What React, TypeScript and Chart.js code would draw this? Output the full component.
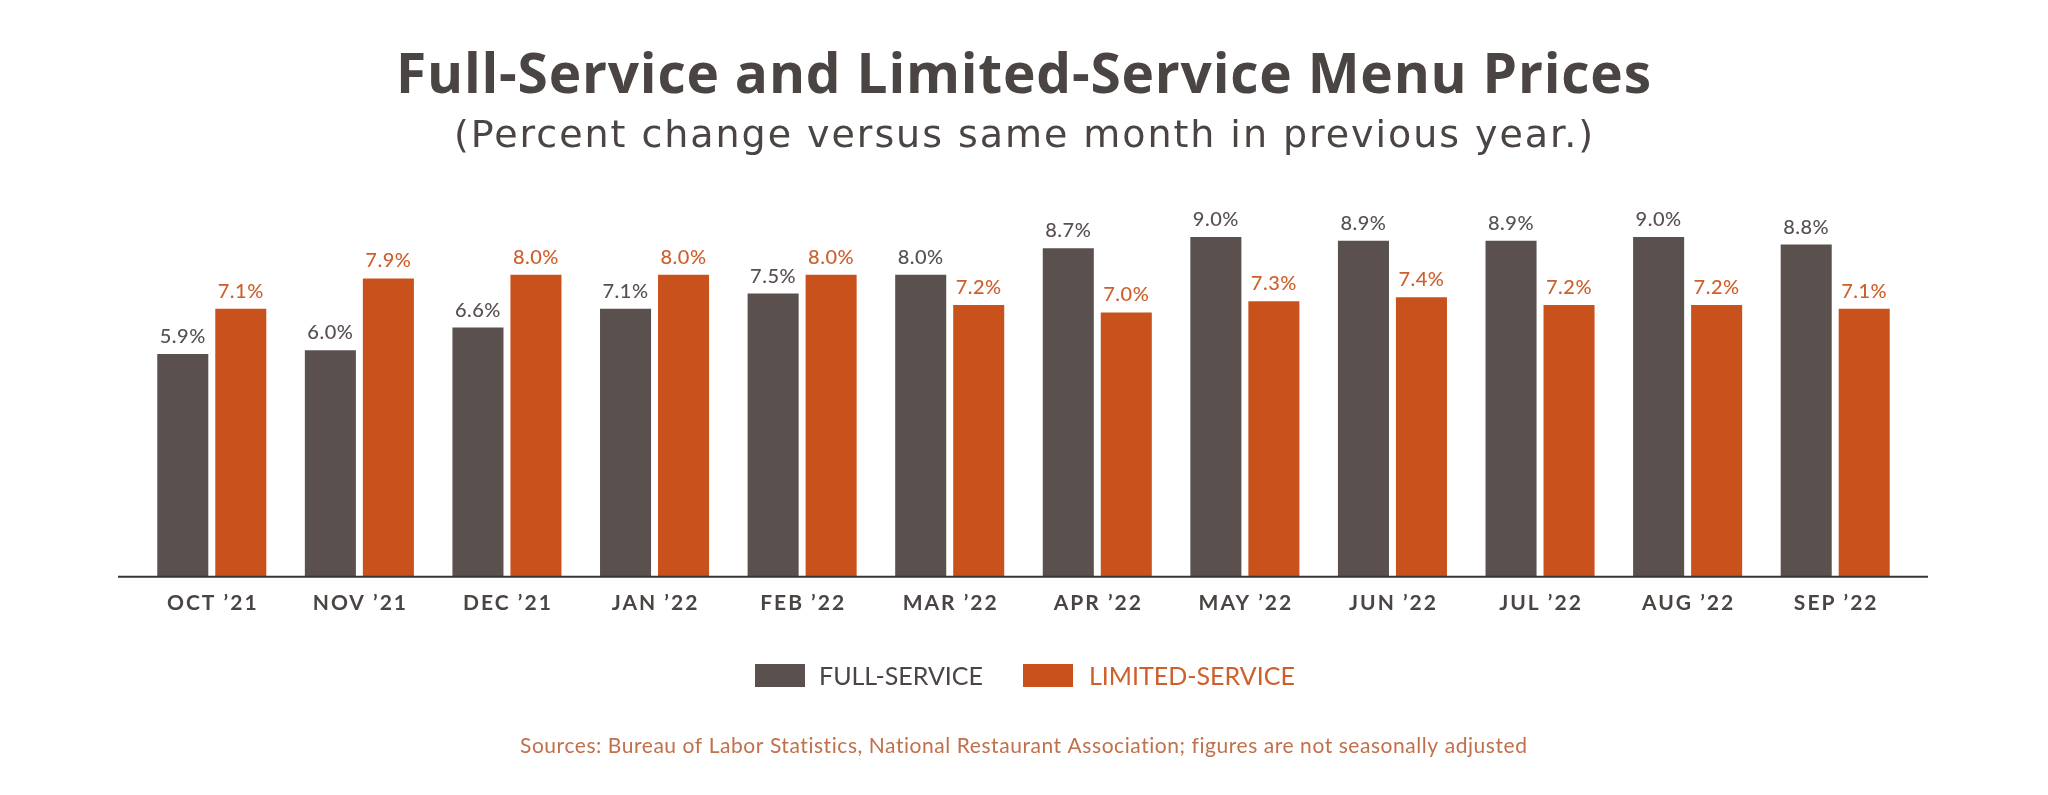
import React, { useEffect, useRef } from "react";
import { Chart, registerables } from "chart.js";

Chart.register(...registerables);

const months = ["OCT ’21", "NOV ’21", "DEC ’21", "JAN ’22", "FEB ’22", "MAR ’22", "APR ’22", "MAY ’22", "JUN ’22", "JUL ’22", "AUG ’22", "SEP ’22"];
const fullService = [5.9, 6.0, 6.6, 7.1, 7.5, 8.0, 8.7, 9.0, 8.9, 8.9, 9.0, 8.8];
const limitedService = [7.1, 7.9, 8.0, 8.0, 8.0, 7.2, 7.0, 7.3, 7.4, 7.2, 7.2, 7.1];
const seriesNames = ["FULL-SERVICE", "LIMITED-SERVICE"];
const titleText = "Full-Service and Limited-Service Menu Prices";
const subtitleText = "(Percent change versus same month in previous year.)";
const footerText = "Sources: Bureau of Labor Statistics, National Restaurant Association; figures are not seasonally adjusted";

const GREY = "#5a504d";
const ORANGE = "#c9521c";
const TEXT_GREY = "#4a4443";
const LABEL_ORANGE = "#cf5f2a";
const FONT = "Lato, 'Noto Sans', sans-serif";
const WIDE_FONT = "'Open Sans', 'Noto Sans', sans-serif";
const SUB_FONT = "'DejaVu Sans', 'Open Sans', sans-serif";

function fitText(ctx: any, text: string, cx: number, y: number, target: number) {
  ctx.letterSpacing = "0px";
  const w = ctx.measureText(text).width;
  const sp = (target - w) / Math.max(1, text.length - 1);
  ctx.letterSpacing = `${sp}px`;
  ctx.textAlign = "left";
  ctx.fillText(text, cx - target / 2, y);
  ctx.letterSpacing = "0px";
}

const drawPlugin = {
  id: "customDraw",
  beforeDraw(chart: any) {
    const ctx = chart.ctx;
    ctx.save();
    ctx.fillStyle = "#ffffff";
    ctx.fillRect(0, 0, chart.width, chart.height);
    ctx.restore();
  },
  afterDatasetsDraw(chart: any) {
    const ctx = chart.ctx;
    const area = chart.chartArea;
    const xScale = chart.scales.x;
    const yScale = chart.scales.y;
    ctx.save();

    // value labels
    chart.data.datasets.forEach((ds: any, di: number) => {
      const meta = chart.getDatasetMeta(di);
      ctx.font = `500 20px ${FONT}`;
      ctx.letterSpacing = "0.5px";
      ctx.fillStyle = di === 0 ? "#585050" : LABEL_ORANGE;
      ctx.textAlign = "center";
      ctx.textBaseline = "alphabetic";
      meta.data.forEach((el: any, i: number) => {
        ctx.fillText(ds.data[i].toFixed(1) + "%", el.x, el.y - 11);
      });
      ctx.letterSpacing = "0px";
    });

    // baseline
    const y0 = yScale.getPixelForValue(0);
    ctx.strokeStyle = "#3a3535";
    ctx.lineWidth = 2;
    ctx.beginPath();
    ctx.moveTo(area.left - 20, y0);
    ctx.lineTo(area.right + 19, y0);
    ctx.stroke();

    // x labels
    ctx.font = `bold 21px ${FONT}`;
    ctx.letterSpacing = "2px";
    ctx.fillStyle = TEXT_GREY;
    ctx.textAlign = "center";
    ctx.textBaseline = "alphabetic";
    months.forEach((m, i) => {
      ctx.fillText(m, xScale.getPixelForValue(i) + 1, 610);
    });
    ctx.letterSpacing = "0px";

    // title
    ctx.textBaseline = "alphabetic";
    ctx.font = `bold 55px ${WIDE_FONT}`;
    ctx.fillStyle = TEXT_GREY;
    fitText(ctx, titleText, 1023.5, 93, 1255);
    ctx.font = `38px ${SUB_FONT}`;
    fitText(ctx, subtitleText, 1023.5, 147, 1139);

    // legend
    ctx.textAlign = "left";
    ctx.textBaseline = "middle";
    ctx.font = `25px ${FONT}`;
    ctx.fillStyle = GREY;
    ctx.fillRect(755, 664, 50, 23);
    ctx.fillStyle = TEXT_GREY;
    ctx.fillText(seriesNames[0], 819, 677);
    ctx.fillStyle = ORANGE;
    ctx.fillRect(1023, 664, 50, 23);
    ctx.fillStyle = LABEL_ORANGE;
    ctx.fillText(seriesNames[1], 1089, 677);

    // footer
    ctx.textBaseline = "alphabetic";
    ctx.font = `21px ${FONT}`;
    ctx.fillStyle = "#c0704a";
    fitText(ctx, footerText, 1024, 753, 1008);

    ctx.restore();
  },
};

export default function App() {
  const ref = useRef<HTMLCanvasElement | null>(null);
  useEffect(() => {
    document.body.style.margin = "0";
    const canvas = ref.current;
    if (!canvas) return;
    const chart = new Chart(canvas, {
      type: "bar",
      data: {
        labels: months,
        datasets: [
          { label: seriesNames[0], data: fullService, backgroundColor: GREY, barPercentage: 0.88, categoryPercentage: 0.786 },
          { label: seriesNames[1], data: limitedService, backgroundColor: ORANGE, barPercentage: 0.88, categoryPercentage: 0.786 },
        ],
      },
      options: {
        animation: false,
        responsive: false,
        maintainAspectRatio: false,
        devicePixelRatio: 1,
        layout: { padding: { left: 138, right: 139, top: 199.2, bottom: 218.3 } },
        plugins: { legend: { display: false }, title: { display: false }, tooltip: { enabled: false } },
        scales: {
          x: { display: false, offset: true },
          y: { display: false, min: 0, max: 10 },
        },
      },
      plugins: [drawPlugin],
    });
    return () => chart.destroy();
  }, []);
  return (
    <div style={{ position: "absolute", left: 0, top: 0, width: 2048, height: 795, background: "#fff" }}>
      <canvas ref={ref} width={2048} height={795} style={{ width: 2048, height: 795, display: "block" }} />
    </div>
  );
}
